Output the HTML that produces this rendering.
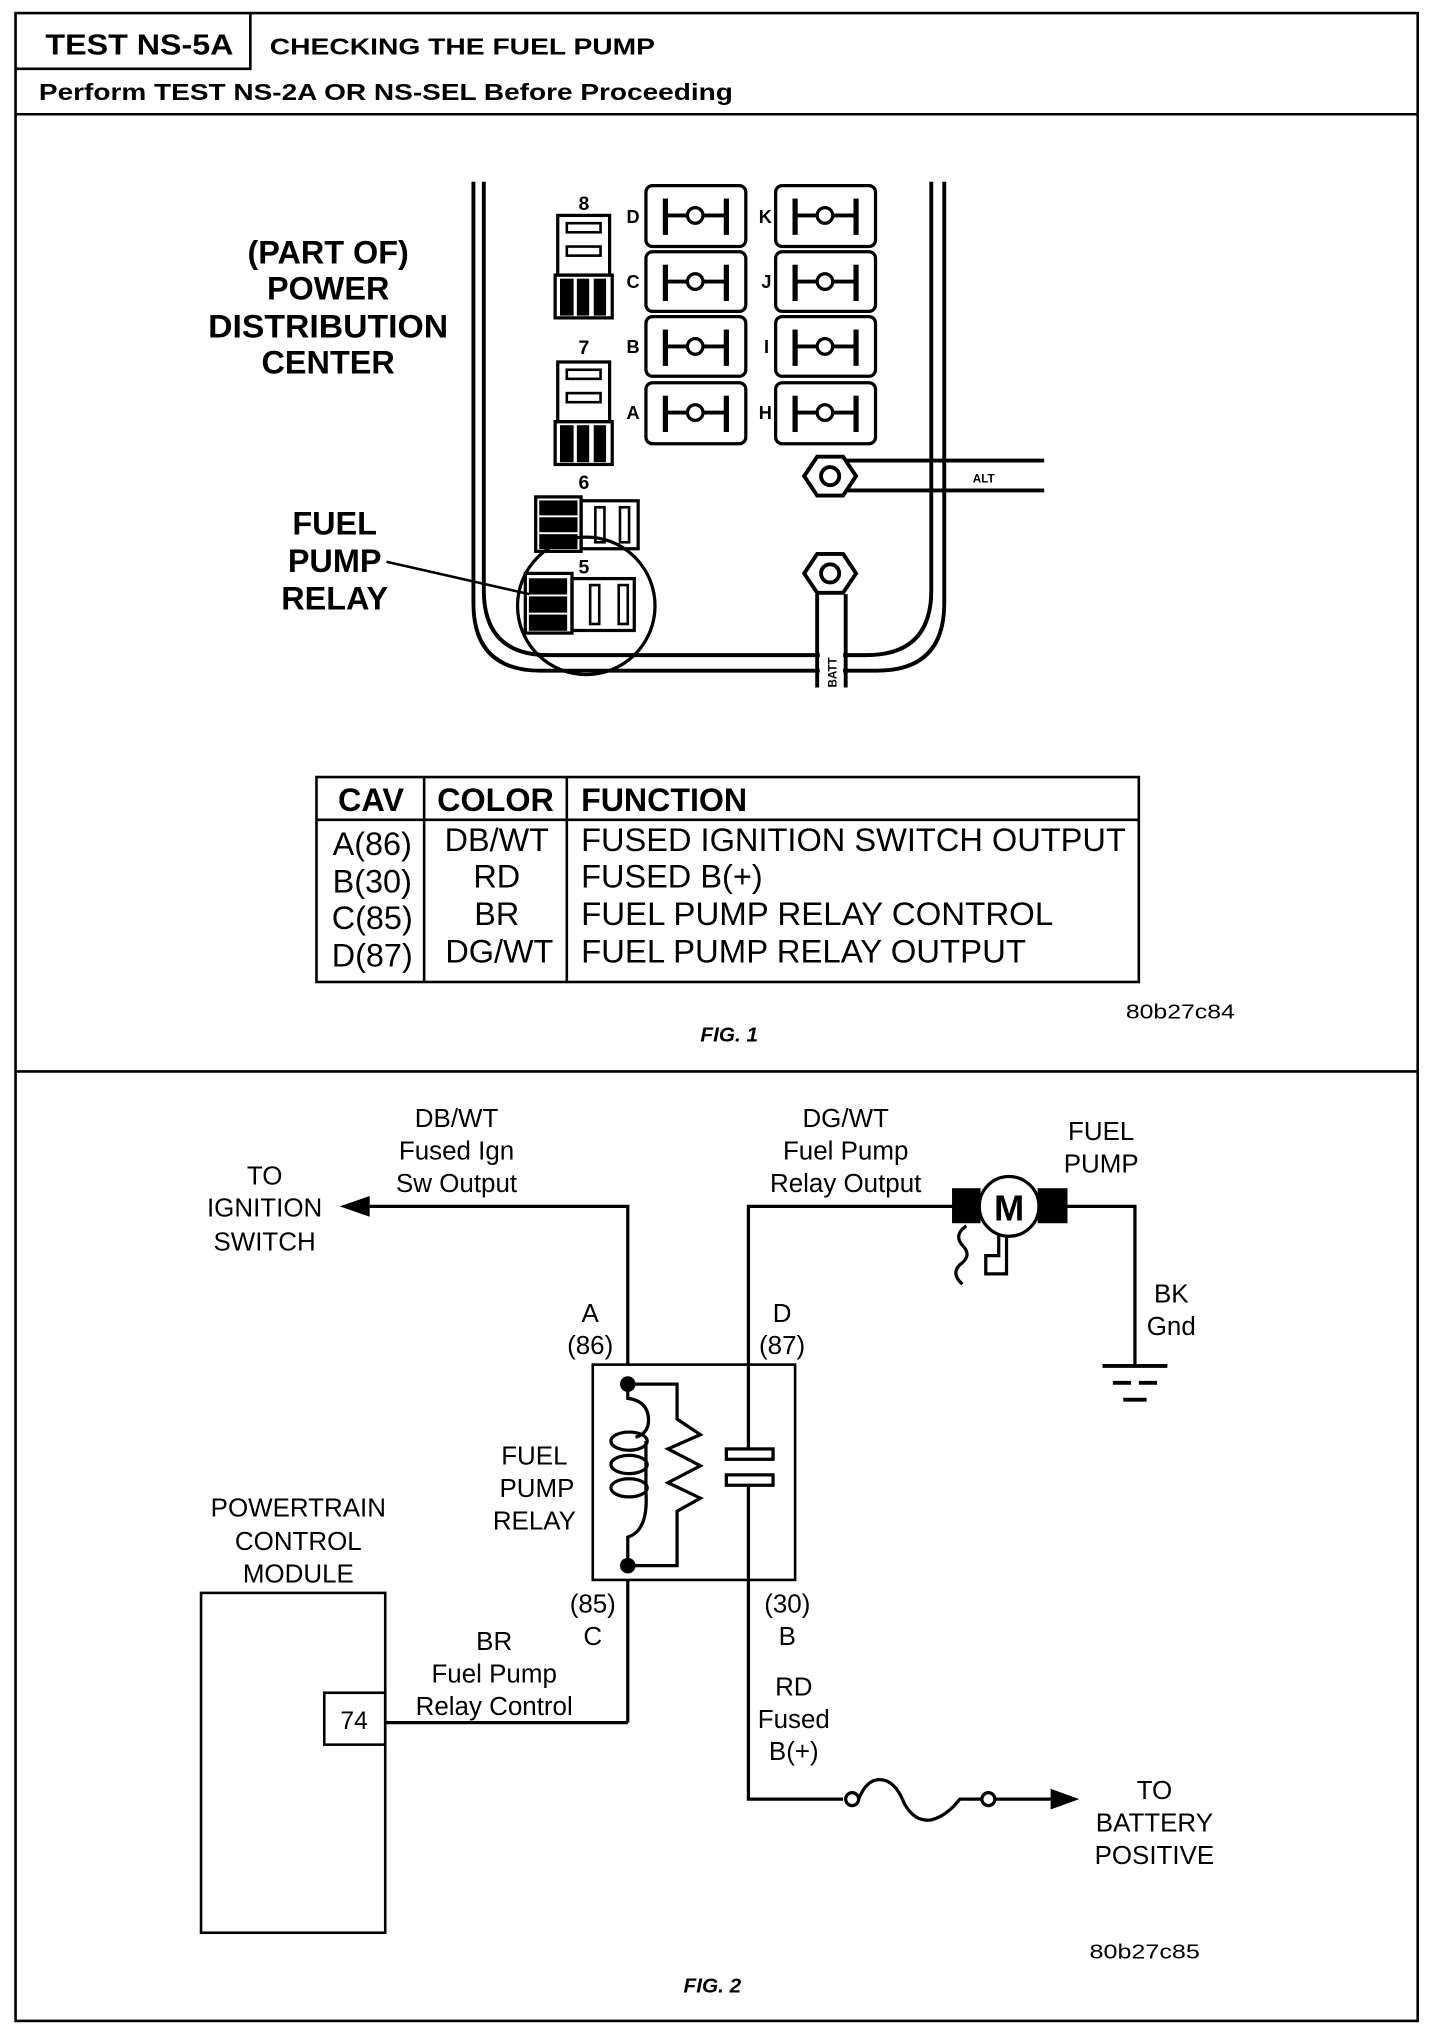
<!DOCTYPE html>
<html><head><meta charset="utf-8"><style>
html,body{margin:0;padding:0;background:#fff}
svg{display:block}
text{font-family:"Liberation Sans",Arial,sans-serif;fill:#000}
.b{font-weight:bold}
</style></head><body>
<svg width="1440" height="2034" viewBox="0 0 1110.2 1568" xmlns="http://www.w3.org/2000/svg">
<g fill="none" stroke="#000">
<rect x="12" y="10" width="1081" height="1548" stroke-width="2"/>
<line x1="12" y1="88" x2="1093" y2="88" stroke-width="2"/>
<polyline points="12,53 193,53 193,10" stroke-width="2"/>
<line x1="12" y1="826" x2="1093" y2="826" stroke-width="2"/>
</g>
<text x="35" y="42" class="b" font-size="22" textLength="145" lengthAdjust="spacingAndGlyphs">TEST NS-5A</text>
<text x="208" y="42" class="b" font-size="18" textLength="297" lengthAdjust="spacingAndGlyphs">CHECKING THE FUEL PUMP</text>
<text x="30" y="77" class="b" font-size="18" textLength="535" lengthAdjust="spacingAndGlyphs">Perform TEST NS-2A OR NS-SEL Before Proceeding</text>

<g fill="none" stroke="#000" stroke-width="3">
<path d="M365,140 V465 Q365,517 417,517 H676 Q728,517 728,465 V140"/>
<path d="M373,140 V455 Q373,505 423,505 H668 Q718,505 718,455 V140"/>
</g>
<g stroke="#000" stroke-width="3" fill="none">
<line x1="650" y1="355" x2="805" y2="355"/>
<line x1="650" y1="378" x2="805" y2="378"/>
<polygon points="630,352 650,352 660,367 650,382 630,382 620,367" fill="#fff"/>
<circle cx="640" cy="367" r="7"/>
<line x1="630" y1="458" x2="630" y2="530"/>
<line x1="652" y1="458" x2="652" y2="530"/>
<polygon points="630,427 650,427 660,442 650,457 630,457 620,442" fill="#fff"/>
<circle cx="640" cy="442" r="7"/>
<rect x="632" y="500" width="18" height="30" fill="#fff" stroke="none"/>
</g>
<text x="750" y="372" font-size="9" class="b">ALT</text>
<text transform="translate(645,530) rotate(-90)" font-size="9" class="b">BATT</text>

<g fill="none" stroke="#000" stroke-width="2.5">
<rect x="498" y="143" width="77" height="47" rx="5"/>
<rect x="498" y="194" width="77" height="46" rx="5"/>
<rect x="498" y="244" width="77" height="46" rx="5"/>
<rect x="498" y="295" width="77" height="47" rx="5"/>
<rect x="598" y="143" width="77" height="47" rx="5"/>
<rect x="598" y="194" width="77" height="46" rx="5"/>
<rect x="598" y="244" width="77" height="46" rx="5"/>
<rect x="598" y="295" width="77" height="47" rx="5"/>
</g>
<g stroke="#000" fill="none">
<g id="f1"><line x1="513" y1="153" x2="513" y2="181" stroke-width="4"/><line x1="560" y1="153" x2="560" y2="181" stroke-width="4"/><line x1="513" y1="166" x2="560" y2="166" stroke-width="3"/><circle cx="536" cy="166" r="6" fill="#fff" stroke-width="2.5"/></g>
<use href="#f1" y="51"/><use href="#f1" y="101"/><use href="#f1" y="152"/>
<use href="#f1" x="100"/><use href="#f1" x="100" y="51"/><use href="#f1" x="100" y="101"/><use href="#f1" x="100" y="152"/>
</g>
<g font-size="14" class="b">
<text x="483" y="172">D</text><text x="483" y="222">C</text><text x="483" y="272">B</text><text x="483" y="323">A</text>
<text x="585" y="172">K</text><text x="587" y="222">J</text><text x="589" y="272">I</text><text x="585" y="323">H</text>
<text x="446" y="162" font-size="15">8</text><text x="446" y="273" font-size="15">7</text><text x="446" y="377" font-size="15">6</text><text x="446" y="442" font-size="15">5</text>
</g>
<g fill="none" stroke="#000" stroke-width="2.5">
<g id="r8"><rect x="430" y="166" width="40" height="46"/><rect x="428" y="212" width="44" height="33"/>
<rect x="437" y="172" width="26" height="7" stroke-width="2"/><rect x="437" y="190" width="26" height="7" stroke-width="2"/>
<rect x="433" y="216" width="8" height="26" fill="#000"/><rect x="446" y="216" width="7" height="26" fill="#000"/><rect x="459" y="216" width="7" height="26" fill="#000"/></g>
<use href="#r8" y="113"/>
<rect x="413" y="383" width="35" height="42"/><rect x="448" y="386" width="44" height="37"/>
<rect x="417" y="387" width="27" height="9" fill="#000"/><rect x="417" y="400" width="27" height="9" fill="#000"/><rect x="417" y="413" width="27" height="9" fill="#000"/>
<rect x="459" y="391" width="7" height="27" stroke-width="2"/><rect x="478" y="391" width="7" height="27" stroke-width="2"/>
<rect x="405" y="442" width="36" height="46"/><rect x="441" y="446" width="48" height="40"/>
<rect x="409" y="447" width="27" height="10" fill="#000"/><rect x="409" y="461" width="27" height="10" fill="#000"/><rect x="409" y="475" width="27" height="10" fill="#000"/>
<rect x="455" y="451" width="7" height="30" stroke-width="2"/><rect x="477" y="451" width="7" height="30" stroke-width="2"/>
<circle cx="452" cy="467" r="53" stroke-width="2.5"/>
<line x1="298" y1="433" x2="408" y2="458" stroke-width="2"/>
</g>
<g class="b" font-size="25" text-anchor="middle">
<text x="253" y="203">(PART OF)</text><text x="253" y="231">POWER</text><text x="253" y="260" textLength="185" lengthAdjust="spacingAndGlyphs">DISTRIBUTION</text><text x="253" y="288">CENTER</text>
<text x="258" y="412">FUEL</text><text x="258" y="441">PUMP</text><text x="258" y="470">RELAY</text>
</g>

<g fill="none" stroke="#000" stroke-width="2">
<rect x="244" y="599" width="634" height="158"/>
<line x1="244" y1="632" x2="878" y2="632"/>
<line x1="327" y1="599" x2="327" y2="757"/>
<line x1="437" y1="599" x2="437" y2="757"/>
</g>
<g font-size="25">
<text x="286" y="625" class="b" text-anchor="middle">CAV</text>
<text x="382" y="625" class="b" text-anchor="middle" textLength="90" lengthAdjust="spacingAndGlyphs">COLOR</text>
<text x="448" y="625" class="b" textLength="128" lengthAdjust="spacingAndGlyphs">FUNCTION</text>
<g text-anchor="middle"><text x="287" y="659">A(86)</text><text x="287" y="688">B(30)</text><text x="287" y="716">C(85)</text><text x="287" y="745">D(87)</text>
<text x="383" y="656">DB/WT</text><text x="383" y="684">RD</text><text x="383" y="713">BR</text><text x="385" y="742">DG/WT</text></g>
<text x="448" y="656" textLength="420" lengthAdjust="spacingAndGlyphs">FUSED IGNITION SWITCH OUTPUT</text>
<text x="448" y="684" textLength="140" lengthAdjust="spacingAndGlyphs">FUSED B(+)</text>
<text x="448" y="713" textLength="364" lengthAdjust="spacingAndGlyphs">FUEL PUMP RELAY CONTROL</text>
<text x="448" y="742" textLength="343" lengthAdjust="spacingAndGlyphs">FUEL PUMP RELAY OUTPUT</text>
</g>
<text x="868" y="785" font-size="16" textLength="84" lengthAdjust="spacingAndGlyphs">80b27c84</text>
<text x="540" y="803" font-size="16" class="b" font-style="italic">FIG. 1</text>

<g fill="none" stroke="#000" stroke-width="2.5">
<polyline points="484,1052 484,930 285,930"/>
<polyline points="577,1117 577,930 735,930"/>
<polyline points="823,930 875,930 875,1052"/>
<line x1="850" y1="1053" x2="900" y2="1053" stroke-width="3"/>
<line x1="858" y1="1066" x2="892" y2="1066" stroke-width="3" stroke-dasharray="14,6"/>
<line x1="866" y1="1079" x2="884" y2="1079" stroke-width="3"/>
<rect x="457" y="1052" width="156" height="166" stroke-width="2"/>
<line x1="484" y1="1218" x2="484" y2="1328"/>
<polyline points="484,1328 297,1328"/>
<polyline points="577,1145 577,1387 650,1387"/>
<rect x="155" y="1228" width="142" height="262" stroke-width="2"/>
<rect x="250" y="1305" width="47" height="40" stroke-width="2"/>
<polyline points="484,1067 522,1067 522,1094 540,1106 515,1117 540,1130 515,1143 540,1155 522,1165 522,1207 484,1207"/>
<path d="M484,1067 V1078 Q500,1080 500,1095 Q500,1105 490,1108"/>
<ellipse cx="485" cy="1111" rx="14" ry="7"/>
<ellipse cx="485" cy="1129" rx="14" ry="7"/>
<ellipse cx="485" cy="1147" rx="14" ry="7"/>
<path d="M498,1111 V1150 Q500,1180 484,1185 V1207"/>
<rect x="560" y="1117" width="36" height="8" stroke-width="2.5"/>
<rect x="560" y="1137" width="36" height="8" stroke-width="2.5"/>
<circle cx="657" cy="1387" r="5"/>
<path d="M662,1387 Q668,1372 678,1372 Q690,1372 697,1390 Q705,1405 718,1403 Q730,1400 740,1387 H757"/>
<circle cx="762" cy="1387" r="5"/>
<line x1="767" y1="1387" x2="815" y2="1387"/>
<path d="M745,945 Q735,952 742,960 Q750,968 740,975 Q733,982 742,990"/>
<polyline points="770,952 770,968 760,968 760,982 776,982 776,952"/>
</g>
<polygon points="262,930 285,922 285,938" fill="#000"/>
<polygon points="832,1387 810,1379 810,1395" fill="#000"/>
<circle cx="484" cy="1067" r="6" fill="#000"/>
<circle cx="484" cy="1207" r="6" fill="#000"/>
<rect x="734" y="916" width="22" height="27" fill="#000"/>
<rect x="800" y="916" width="23" height="27" fill="#000"/>
<circle cx="778" cy="930" r="23" fill="#fff" stroke="#000" stroke-width="2.5"/>
<text x="778" y="941" font-size="28" class="b" text-anchor="middle">M</text>
<text x="273" y="1333" font-size="19" text-anchor="middle">74</text>

<g font-size="20" text-anchor="middle">
<text x="352" y="869">DB/WT</text><text x="352" y="894">Fused Ign</text><text x="352" y="919">Sw Output</text>
<text x="204" y="913">TO</text><text x="204" y="938">IGNITION</text><text x="204" y="964">SWITCH</text>
<text x="652" y="869">DG/WT</text><text x="652" y="894">Fuel Pump</text><text x="652" y="919">Relay Output</text>
<text x="849" y="879">FUEL</text><text x="849" y="904">PUMP</text>
<text x="903" y="1004">BK</text><text x="903" y="1029">Gnd</text>
<text x="455" y="1019">A</text><text x="455" y="1044">(86)</text>
<text x="603" y="1019">D</text><text x="603" y="1044">(87)</text>
<text x="412" y="1129">FUEL</text><text x="414" y="1154">PUMP</text><text x="412" y="1179">RELAY</text>
<text x="457" y="1243">(85)</text><text x="457" y="1268">C</text>
<text x="607" y="1243">(30)</text><text x="607" y="1268">B</text>
<text x="230" y="1169">POWERTRAIN</text><text x="230" y="1195">CONTROL</text><text x="230" y="1220">MODULE</text>
<text x="381" y="1272">BR</text><text x="381" y="1297">Fuel Pump</text><text x="381" y="1322">Relay Control</text>
<text x="612" y="1307">RD</text><text x="612" y="1332">Fused</text><text x="612" y="1357">B(+)</text>
<text x="890" y="1387">TO</text><text x="890" y="1412">BATTERY</text><text x="890" y="1437">POSITIVE</text>
</g>
<text x="840" y="1510" font-size="16" textLength="85" lengthAdjust="spacingAndGlyphs">80b27c85</text>
<text x="527" y="1536" font-size="16" class="b" font-style="italic">FIG. 2</text>
</svg>
</body></html>
